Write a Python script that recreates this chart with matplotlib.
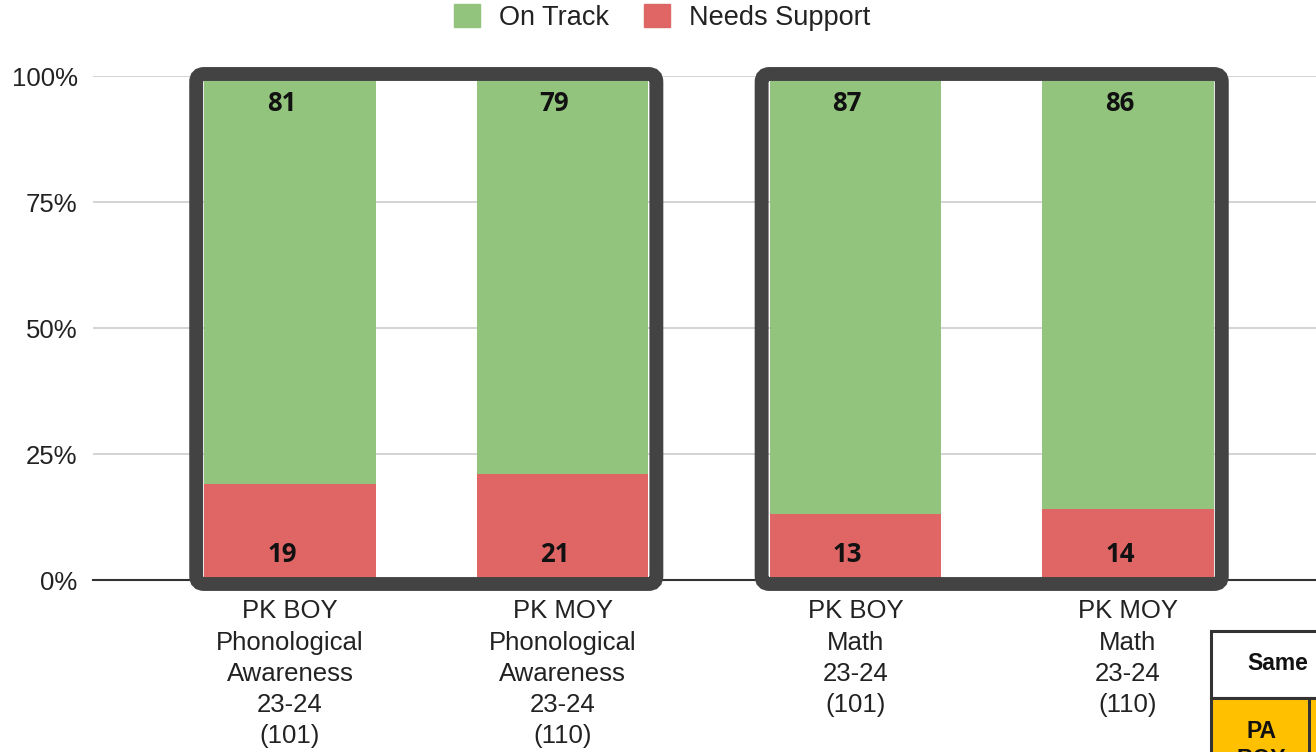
import numpy as np
import matplotlib
matplotlib.use('Agg')
import matplotlib.pyplot as plt
from matplotlib.patches import FancyBboxPatch, Rectangle, Patch
from matplotlib.transforms import IdentityTransform

# --- dados ---
categories = [
    "PK BOY\nPhonological\nAwareness\n23-24\n(101)",
    "PK MOY\nPhonological\nAwareness\n23-24\n(110)",
    "PK BOY\nMath\n23-24\n(101)",
    "PK MOY\nMath\n23-24\n(110)",
]
on_track = [81, 79, 87, 86]
needs_support = [19, 21, 13, 14]
groups = [(0, 1), (2, 3)]  # pares com moldura escura
y_ticks = [0, 0.25, 0.5, 0.75, 1.0]
y_tick_labels = ["0%", "25%", "50%", "75%", "100%"]

green = '#93c47d'
red = '#e06666'
box_col = '#434343'
txt_col = '#222222'

plt.rcParams['font.family'] = ['Liberation Sans', 'DejaVu Sans']

W, H = 1316, 752
fig = plt.figure(figsize=(W / 100, H / 100), dpi=100)
ax = fig.add_axes([93 / W, 1 - 580 / H, 1 - 93 / W, (580 - 76) / H])

# posicoes: um pequeno espaco extra entre os grupos
group_of = np.zeros(len(categories))
for g, (i0, i1) in enumerate(groups):
    group_of[i0:i1 + 1] = g
x = np.arange(len(categories)) + 0.075 * group_of
bw = 0.63
tot = np.array(on_track) + np.array(needs_support)
ns = np.array(needs_support) / tot
ot = np.array(on_track) / tot

ax.bar(x, ns, bw, color=red, zorder=2)
ax.bar(x, ot, bw, bottom=ns, color=green, zorder=2)

# rotulos dos valores
lbl_font = ['Open Sans', 'DejaVu Sans']
for xi, a, b in zip(x, on_track, needs_support):
    ax.text(xi - 0.03, 1 - 0.055, str(a), ha='center', va='center', fontsize=18.5,
            fontweight='bold', family=lbl_font, color='#111111', zorder=5)
    ax.text(xi - 0.03, 0.05, str(b), ha='center', va='center', fontsize=18.5,
            fontweight='bold', family=lbl_font, color='#111111', zorder=5)

ax.set_xlim(-0.723, 3.765)
ax.set_ylim(0, 1)
ax.set_xticks(x)
ax.set_xticklabels(categories, fontsize=18.5, color=txt_col, linespacing=1.38)
ax.set_yticks(y_ticks)
ax.set_yticklabels(y_tick_labels, fontsize=18.5, color=txt_col)
ax.tick_params(axis='x', length=0, pad=14)
ax.tick_params(axis='y', length=0, pad=11)
for s in ['top', 'right', 'left']:
    ax.spines[s].set_visible(False)
ax.spines['bottom'].set_color('#333333')
ax.spines['bottom'].set_linewidth(1.5)
ax.spines['bottom'].set_zorder(1)
ax.grid(axis='y', color='#cccccc', linewidth=1.2, zorder=0)
ax.set_axisbelow(True)

# molduras arredondadas em volta dos pares
fig.canvas.draw()
for i0, i1 in groups:
    (x0, y0) = ax.transData.transform((x[i0] - bw / 2, 0))
    (x1, y1) = ax.transData.transform((x[i1] + bw / 2, 1))
    x0 -= 8; x1 += 8; y0 -= 4; y1 += 2
    box = FancyBboxPatch((x0, y0), x1 - x0, y1 - y0,
                         boxstyle='round,pad=0,rounding_size=8',
                         transform=IdentityTransform(), fill=False,
                         ec=box_col, lw=10, zorder=3)
    fig.add_artist(box)

# legenda
handles = [Patch(color=green), Patch(color=red)]
fig.legend(handles, ['On Track', 'Needs Support'], loc='center',
           bbox_to_anchor=(0.503, 0.977), ncol=2, frameon=False, fontsize=19.5,
           handlelength=0.95, handleheight=0.95, handletextpad=0.7,
           columnspacing=1.3, labelcolor=txt_col)

# pedaco da tabela no canto inferior direito
def px(xp, yp):
    return (xp / W, 1 - yp / H)

def rect(xa, ya, xb, yb, **kw):
    r = Rectangle(px(xa, yb), (xb - xa) / W, (yb - ya) / H,
                  transform=fig.transFigure, **kw)
    fig.add_artist(r)

rect(1211, 631, 1340, 698, facecolor='white', edgecolor='#333333', lw=2.2, zorder=4)
rect(1211, 698, 1340, 770, facecolor='#ffc000', edgecolor='#333333', lw=2.2, zorder=4)
rect(1308, 698, 1311, 770, facecolor='#333333', edgecolor='none', zorder=5)
fig.text(*px(1278, 664), 'Same', ha='center', va='center', fontsize=16.5,
         fontweight='bold', color='#111111', zorder=6)
fig.text(*px(1261, 732), 'PA', ha='center', va='center', fontsize=16.5,
         fontweight='bold', color='#111111', zorder=6)
fig.text(*px(1261, 760), 'BOY', ha='center', va='center', fontsize=16.5,
         fontweight='bold', color='#111111', zorder=6)

fig.savefig('out.png', dpi=100)
